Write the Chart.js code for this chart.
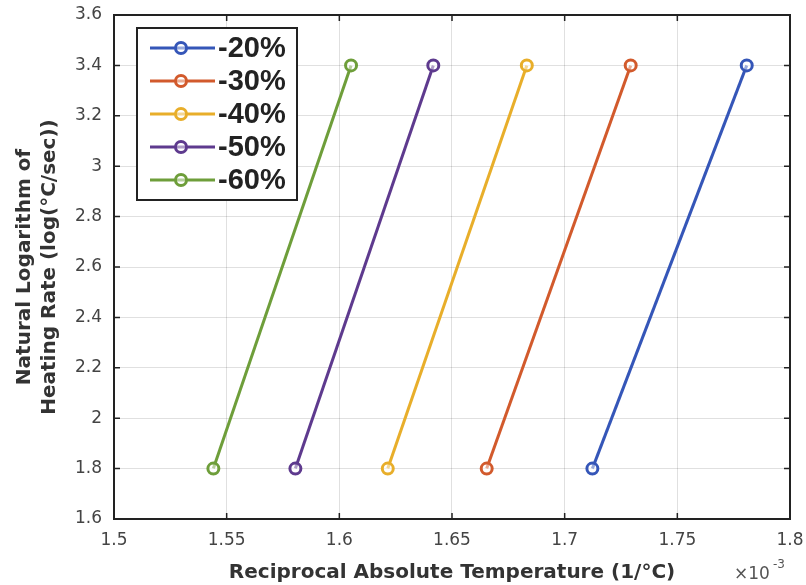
<!DOCTYPE html>
<html><head><meta charset="utf-8">
<script src="https://cdn.jsdelivr.net/npm/chart.js@4"></script>
<style>html,body{margin:0;padding:0;background:#fff}#wrap{width:806px;height:585px}</style>
</head><body><div id="wrap"><canvas id="c" width="806" height="585"></canvas></div>
<script>
const seriesLabels = ['-20%', '-30%', '-40%', '-50%', '-60%'];
const seriesColors = ['#3556b8', '#d25a2c', '#e8ae2a', '#5e3a8e', '#6e9e3a'];
const yValues = [1.8, 3.4];
const x20 = [1.7123, 1.7808];
const x30 = [1.6654, 1.7293];
const x40 = [1.6215, 1.6832];
const x50 = [1.5805, 1.6417];
const x60 = [1.5441, 1.6052];
const xTicks = [1.5, 1.55, 1.6, 1.65, 1.7, 1.75, 1.8];
const xTickLabels = ['1.5', '1.55', '1.6', '1.65', '1.7', '1.75', '1.8'];
const yTicks = [1.6, 1.8, 2, 2.2, 2.4, 2.6, 2.8, 3, 3.2, 3.4, 3.6];
const yTickLabels = ['1.6', '1.8', '2', '2.2', '2.4', '2.6', '2.8', '3', '3.2', '3.4', '3.6'];

const FONT = '"DejaVu Sans", Verdana, sans-serif';
const xs = [x20, x30, x40, x50, x60];
const datasets = xs.map((arr, i) => ({
  label: seriesLabels[i],
  data: arr.map((x, j) => ({x: x, y: yValues[j]})),
  borderColor: seriesColors[i],
  backgroundColor: seriesColors[i],
  pointBackgroundColor: 'rgba(255,255,255,0.5)',
  pointBorderColor: seriesColors[i],
  pointRadius: 5.5,
  pointBorderWidth: 3,
  borderWidth: 3,
  showLine: true,
  tension: 0
}));

const boxPlugin = {
  id: 'boxPlugin',
  afterDraw(chart) {
    const ctx = chart.ctx;
    const a = chart.chartArea;
    const xs = chart.scales.x, ys = chart.scales.y;
    ctx.save();
    ctx.strokeStyle = '#222';
    ctx.lineWidth = 1.5;
    ctx.beginPath();
    xTicks.forEach(v => {
      const px = xs.getPixelForValue(v);
      ctx.moveTo(px, a.bottom); ctx.lineTo(px, a.bottom - 6);
      ctx.moveTo(px, a.top); ctx.lineTo(px, a.top + 6);
    });
    yTicks.forEach(v => {
      const py = ys.getPixelForValue(v);
      ctx.moveTo(a.left, py); ctx.lineTo(a.left + 6, py);
      ctx.moveTo(a.right, py); ctx.lineTo(a.right - 6, py);
    });
    ctx.stroke();
    ctx.lineWidth = 2;
    ctx.strokeRect(a.left, a.top, a.right - a.left, a.bottom - a.top);
    // legend
    const lx = 137, ly = 28, lw = 160, lh = 172;
    ctx.fillStyle = '#fff';
    ctx.fillRect(lx, ly, lw, lh);
    ctx.strokeStyle = '#222';
    ctx.lineWidth = 2;
    ctx.strokeRect(lx, ly, lw, lh);
    chart.data.datasets.forEach((ds, i) => {
      const cy = 48 + i * 33;
      ctx.strokeStyle = ds.borderColor;
      ctx.lineWidth = 3;
      ctx.beginPath(); ctx.moveTo(150, cy); ctx.lineTo(215, cy); ctx.stroke();
      ctx.beginPath(); ctx.arc(181, cy, 5.5, 0, Math.PI * 2);
      ctx.fillStyle = 'rgba(255,255,255,0.5)'; ctx.fill(); ctx.stroke();
      ctx.fillStyle = '#222';
      ctx.font = 'bold 29px "Liberation Sans", Arial, sans-serif';
      ctx.textBaseline = 'middle';
      ctx.textAlign = 'left';
      ctx.fillText(ds.label, 218, cy + 1);
    });
    // exponent
    ctx.fillStyle = '#555';
    ctx.font = '17px ' + FONT;
    ctx.textAlign = 'left';
    ctx.textBaseline = 'alphabetic';
    ctx.fillText('\u00d710', 734, 579);
    ctx.font = '12px ' + FONT;
    ctx.fillText('-3', 773, 568);
    ctx.restore();
  }
};

new Chart(document.getElementById('c'), {
  type: 'scatter',
  data: { datasets },
  plugins: [boxPlugin],
  options: {
    responsive: false,
    animation: false,
    layout: { padding: { left: 0, right: 16, top: 15, bottom: 0 } },
    plugins: { legend: { display: false }, tooltip: { enabled: false } },
    scales: {
      x: {
        type: 'linear', min: 1.5, max: 1.8,
        afterBuildTicks: s => { s.ticks = xTicks.map(v => ({ value: v })); },
        afterFit: s => { s.height = 66; s.paddingLeft = 0; s.paddingRight = 0; },
        grid: { color: 'rgba(0,0,0,0.12)', drawTicks: false, lineWidth: 1 },
        border: { display: false },
        ticks: {
          padding: 11, color: '#444', maxRotation: 0,
          font: { size: 17, family: FONT },
          callback: (v) => { const i = xTicks.findIndex(t => Math.abs(t - v) < 1e-9); return i >= 0 ? xTickLabels[i] : ''; }
        },
        title: {
          display: true, text: 'Reciprocal Absolute Temperature (1/\u00b0C)', color: '#333',
          font: { size: 20, weight: 'bold', family: FONT },
          padding: { top: 2, bottom: 0 }
        }
      },
      y: {
        type: 'linear', min: 1.6, max: 3.6,
        afterBuildTicks: s => { s.ticks = yTicks.map(v => ({ value: v })); },
        afterFit: s => { s.width = 114; s.paddingTop = 0; s.paddingBottom = 0; },
        grid: { color: 'rgba(0,0,0,0.12)', drawTicks: false, lineWidth: 1 },
        border: { display: false },
        ticks: {
          padding: 12, color: '#444',
          font: { size: 17, family: FONT },
          callback: (v) => { const i = yTicks.findIndex(t => Math.abs(t - v) < 1e-9); return i >= 0 ? yTickLabels[i] : ''; }
        },
        title: {
          display: true, text: ['Natural Logarithm of', 'Heating Rate (log(\u00b0C/sec))'], color: '#333',
          font: { size: 20, weight: 'bold', family: FONT, lineHeight: 1.25 },
          padding: { top: 12, bottom: 0 }
        }
      }
    }
  }
});
</script></body></html>
